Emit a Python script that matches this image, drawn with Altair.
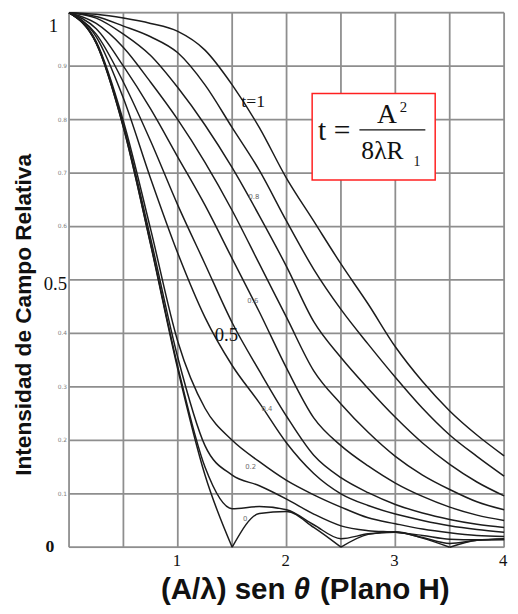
import altair as alt
import pandas as pd

# ---------------- data ----------------
U = [0, 0.25, 0.5, 0.75, 1, 1.25, 1.5, 1.75, 2, 2.25, 2.5, 2.75, 3, 3.25, 3.5, 3.75, 4]
T_VALUES = [0, 0.1, 0.2, 0.3, 0.4, 0.5, 0.6, 0.7, 0.8, 0.9, 1.0]

V_T00 = [1, .943, .785, .566, .333, .135, 0, .063, .067, .037, 0, .024, .029, .017, 0, .013, .016]
V_T01 = [1, .943, .786, .568, .338, .150, .072, .076, .070, .042, .016, .025, .028, .018, .007, .013, .015]
V_T02 = [1, .944, .790, .578, .355, .190, .135, .115, .090, .062, .040, .031, .028, .022, .015, .014, .014]
V_T03 = [1, .946, .797, .595, .385, .260, .200, .160, .125, .098, .075, .055, .044, .034, .027, .022, .020]
V_T04 = [1, .955, .840, .690, .550, .430, .340, .270, .195, .138, .100, .078, .062, .050, .040, .033, .028]
V_T05 = [1, .960, .870, .760, .640, .530, .420, .330, .245, .172, .130, .102, .080, .064, .052, .043, .037]
V_T06 = [1, .970, .900, .820, .730, .640, .540, .440, .335, .242, .190, .152, .120, .095, .075, .060, .050]
V_T07 = [1, .980, .935, .870, .800, .720, .630, .530, .430, .330, .268, .215, .170, .135, .108, .085, .070]
V_T08 = [1, .990, .960, .920, .860, .790, .710, .620, .525, .422, .355, .297, .243, .195, .155, .122, .096]
V_T09 = [1, .993, .975, .955, .925, .865, .785, .705, .610, .520, .445, .380, .318, .260, .210, .170, .133]
V_T10 = [1, .997, .990, .980, .965, .930, .865, .785, .690, .610, .530, .455, .375, .310, .255, .210, .171]

CURVES = [V_T00, V_T01, V_T02, V_T03, V_T04, V_T05, V_T06, V_T07, V_T08, V_T09, V_T10]
NULLS = {0: [1.5, 2.5, 3.5]}  # curve index -> abscissas where the curve touches zero

X_GRID = [0, 0.5, 1, 1.5, 2, 2.5, 3, 3.5, 4]
Y_GRID = [0, 0.1, 0.2, 0.3, 0.4, 0.5, 0.6, 0.7, 0.8, 0.9, 1.0]

X_TICKS = [1, 2, 3, 4]
X_TICK_TEXT = ["1", "2", "3", "4"]
Y_SMALL_TICKS = [0.9, 0.8, 0.7, 0.6, 0.4, 0.3, 0.2, 0.1]
Y_SMALL_TEXT = ["0.9", "0.8", "0.7", "0.6", "0.4", "0.3", "0.2", "0.1"]

CURVE_LABELS = ["0.8", "0.6", "0.4", "0.2", "0"]
CURVE_LABEL_U = [1.70, 1.69, 1.82, 1.67, 1.62]
CURVE_LABEL_V = [0.656, 0.460, 0.258, 0.150, 0.052]

# ---------------- build tables ----------------
rows = []
for i, (t, vals) in enumerate(zip(T_VALUES, CURVES)):
    breaks = NULLS.get(i, [])
    seg = 0
    for u, v in zip(U, vals):
        rows.append({"key": f"{t}-{seg}", "u": u, "v": v})
        if u in breaks:
            seg += 1
            rows.append({"key": f"{t}-{seg}", "u": u, "v": v})
curves_df = pd.DataFrame(rows)

W, H = 442, 543
xs = alt.Scale(domain=[0, 4], nice=False, zero=False)
ys = alt.Scale(domain=[0, 1], nice=False, zero=False)
GRID = "#8e8e8e"

xgrid = alt.Chart(pd.DataFrame({"g": X_GRID})).mark_rule(color=GRID, strokeWidth=1.8).encode(
    x=alt.X("g:Q", scale=xs, axis=None))
ygrid = alt.Chart(pd.DataFrame({"g": Y_GRID})).mark_rule(color=GRID, strokeWidth=1.8).encode(
    y=alt.Y("g:Q", scale=ys, axis=None))

lines = alt.Chart(curves_df).mark_line(color="#1c1c1c", strokeWidth=1.5, interpolate="monotone").encode(
    x=alt.X("u:Q", scale=xs, axis=None),
    y=alt.Y("v:Q", scale=ys, axis=None),
    detail="key:N",
)

xt = alt.Chart(pd.DataFrame({"u": X_TICKS, "s": X_TICK_TEXT})).mark_text(
    font="Liberation Serif", fontSize=17, baseline="alphabetic", color="#111", dx=-1).encode(
    x=alt.X("u:Q", scale=xs), y=alt.value(H + 19), text="s:N")

ysmall = alt.Chart(pd.DataFrame({"v": Y_SMALL_TICKS, "s": Y_SMALL_TEXT})).mark_text(
    font="DejaVu Sans", fontSize=6, align="right", baseline="middle", color="#808080").encode(
    y=alt.Y("v:Q", scale=ys), x=alt.value(-2), text="s:N")

clabels = alt.Chart(pd.DataFrame({"u": CURVE_LABEL_U, "v": CURVE_LABEL_V, "s": CURVE_LABELS})).mark_text(
    font="DejaVu Sans", fontSize=7, color="#707070").encode(
    x=alt.X("u:Q", scale=xs), y=alt.Y("v:Q", scale=ys), text="s:N")


def txt(s, x, y, size, align="left", style="normal", weight="normal", font="Liberation Serif", angle=0,
        baseline="alphabetic"):
    kw = dict(font=font, fontSize=size, align=align, baseline=baseline, color="#111",
              fontStyle=style, fontWeight=weight)
    if angle:
        kw["angle"] = angle
        kw["baseline"] = "middle"
    return alt.Chart(pd.DataFrame({"s": [s]})).mark_text(**kw).encode(
        x=alt.value(x), y=alt.value(y), text="s:N")


# big y tick labels and in-plot labels
ybig = [
    txt("1", -11, 20, 19, align="right"),
    txt("0.5", -2, 282, 19, align="right"),
    txt("0", -15, 548, 18, align="right", weight="bold"),
]
inplot = [
    txt("t=1", 175, 96, 18, align="left"),
    txt("0.5", 148, 334, 19, align="left"),
]

# formula box (in pixel positions of the plot area)
box = alt.Chart(pd.DataFrame({"a": [0]})).mark_rect(fill="white", stroke="#ff2020", strokeWidth=1.5).encode(
    x=alt.value(247), x2=alt.value(372), y=alt.value(82), y2=alt.value(170))
frac_line = alt.Chart(pd.DataFrame({"a": [0]})).mark_rule(color="#111", strokeWidth=1.2).encode(
    x=alt.value(295), x2=alt.value(362), y=alt.value(119))

formula = [
    txt("t =", 253, 129, 30),
    txt("A", 313, 112, 28),
    txt("2", 336, 101, 15),
    txt("8\u03bbR", 297, 149, 26),
    txt("1", 350, 156, 14),
]

ytitle = txt("Intensidad de Campo Relativa", -46, 307, 23, align="center",
             weight="bold", font="Liberation Sans", angle=270)
xt1 = txt("(A/\u03bb) sen", 220, 596, 30, align="right", weight="bold", font="Liberation Sans")
xt2 = txt("\u03b8", 228, 596, 30, align="left", weight="bold", style="italic", font="Liberation Sans")
xt3 = txt("(Plano H)", 255, 596, 30, align="left", weight="bold", font="Liberation Sans")

chart = alt.layer(
    xgrid, ygrid, lines, xt, ysmall, clabels, *ybig, *inplot, box, frac_line,
    *formula, ytitle, xt1, xt2, xt3,
).properties(
    width=W, height=H,
    autosize=alt.AutoSizeParams(type="none"),
    padding={"left": 62, "top": 0, "right": 6, "bottom": 60},
).configure_view(stroke=None).configure(background="white")

chart.save("out.html", embed_options={"renderer": "svg", "actions": False})
